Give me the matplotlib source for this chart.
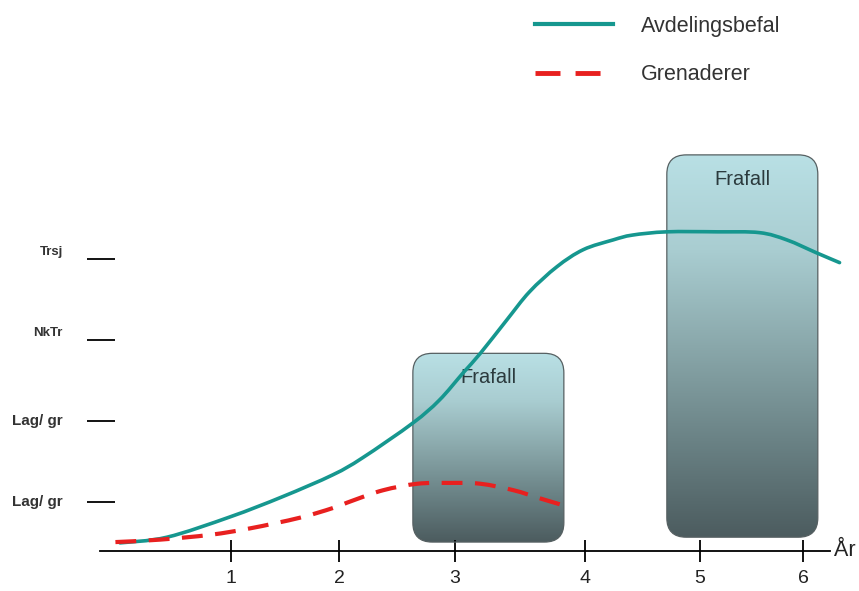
import numpy as np
import matplotlib
matplotlib.use('Agg')
import matplotlib.pyplot as plt
from matplotlib.patches import FancyBboxPatch, PathPatch
from matplotlib.path import Path
from matplotlib.lines import Line2D
from matplotlib.colors import LinearSegmentedColormap

plt.rcParams['font.family'] = ['Liberation Sans', 'DejaVu Sans']

# year axis (tick positions, labels 1..6)
year_pos = [1.0, 1.944, 2.958, 4.094, 5.10, 6.0]
year_labels = ['1', '2', '3', '4', '5', '6']

# rank levels on the y axis
level_pos = [0.6, 1.6, 2.6, 3.6]
level_labels = ['Lag/ gr', 'Lag/ gr', 'NkTr', 'Trsj']

# Avdelingsbefal (teal solid)
avd_x = [0.03, 0.44, 0.99, 1.45, 1.89, 2.15, 2.59, 2.82, 3.03, 3.18, 3.41,
         3.61, 3.85, 4.08, 4.34, 4.51, 4.81, 5.25, 5.62, 5.86, 6.12, 6.32]
avd_y = [0.10, 0.17, 0.42, 0.67, 0.94, 1.15, 1.58, 1.86, 2.20, 2.44, 2.85,
         3.20, 3.51, 3.72, 3.84, 3.90, 3.94, 3.94, 3.93, 3.84, 3.68, 3.56]

# Grenaderer (red dashed)
gren_x = [-0.01, 0.38, 0.82, 1.17, 1.60, 1.89, 2.06, 2.33, 2.63, 2.91, 3.18,
          3.47, 3.70, 3.89]
gren_y = [0.11, 0.14, 0.20, 0.28, 0.41, 0.53, 0.62, 0.75, 0.83, 0.84, 0.83,
          0.75, 0.65, 0.57]

# "Frafall" boxes: (x0, x1), (y0, y1)
box_x = [(2.59, 3.91), (4.81, 6.13)]
box_y = [(0.11, 2.44), (0.17, 4.89)]


def smooth_path(xs, ys):
    # Catmull-Rom through the read points, written as cubic Bezier segments
    p = np.column_stack([xs, ys]).astype(float)
    verts = [p[0]]
    codes = [Path.MOVETO]
    for i in range(len(p) - 1):
        p0 = p[i - 1] if i > 0 else p[i]
        p3 = p[i + 2] if i + 2 < len(p) else p[i + 1]
        c1 = p[i] + (p[i + 1] - p0) / 6.0
        c2 = p[i + 1] - (p3 - p[i]) / 6.0
        verts += [c1, c2, p[i + 1]]
        codes += [Path.CURVE4] * 3
    return Path(verts, codes)


fig = plt.figure(figsize=(8.59, 5.91), dpi=100)
ax = fig.add_axes([0, 0, 1, 1])

grad = LinearSegmentedColormap.from_list(
    'frafall', ['#b9e0e5', '#a9cdd1', '#8aa8ab', '#6a8285', '#4c5c5f'])
aspect = 114.4 / 81.0
for (x0, x1), (y0, y1) in zip(box_x, box_y):
    patch = FancyBboxPatch((x0, y0), x1 - x0, y1 - y0,
                           boxstyle='round,pad=0,rounding_size=0.17',
                           mutation_aspect=aspect, facecolor='none',
                           edgecolor='#566062', linewidth=0.9, zorder=2)
    ax.add_patch(patch)
    im = ax.imshow(np.linspace(0, 1, 256).reshape(-1, 1), cmap=grad,
                   extent=[x0, x1, y0, y1], origin='upper', aspect='auto',
                   zorder=1)
    im.set_clip_path(patch)
    ax.text((x0 + x1) / 2, y1 - 0.3, 'Frafall', ha='center', va='center',
            fontsize=14.5, color='#2b3a3d', zorder=3)

teal = '#16978f'
red = '#e8201f'
ax.add_patch(PathPatch(smooth_path(avd_x, avd_y), facecolor='none',
                       edgecolor=teal, lw=2.6, capstyle='round', zorder=4))
ax.add_patch(PathPatch(smooth_path(gren_x, gren_y), facecolor='none',
                       edgecolor=red, lw=3.0, linestyle=(0, (5, 3)),
                       zorder=5))

ax.set_xlim(-1.019, 6.490)
ax.set_ylim(-0.494, 6.802)

for s in ['top', 'right']:
    ax.spines[s].set_visible(False)
ax.spines['bottom'].set_position(('data', 0))
ax.spines['bottom'].set_bounds(-0.145, 6.236)
ax.spines['bottom'].set_linewidth(1.3)
ax.spines['left'].set_position(('data', -0.132))
ax.spines['left'].set_visible(False)

ax.set_xticks(year_pos)
ax.set_xticklabels(year_labels, fontsize=14, color='#222222')
ax.tick_params(axis='x', direction='inout', length=16, width=1.3, pad=6)
ax.set_yticks(level_pos)
ax.set_yticklabels([])
ax.tick_params(axis='y', direction='inout', length=19.5, width=1.3)

for yp, lab in zip(level_pos, level_labels):
    small = lab != 'Lag/ gr'
    ax.text(-0.47, yp + (0.09 if small else 0.0), lab, ha='right',
            va='center', fontsize=9.5 if small else 11, fontweight='bold',
            color='#333333')

ax.text(6.27, 0.0, 'År', ha='left', va='center', fontsize=15.5,
        color='#222222')

handles = [Line2D([], [], color=teal, lw=3.0),
           Line2D([], [], color=red, lw=3.5, dashes=(5.14, 3.1))]
ax.legend(handles, ['Avdelingsbefal', 'Grenaderer'], loc='upper left',
          bbox_to_anchor=(535 / 859, 1 - 16 / 591),
          bbox_transform=fig.transFigure, frameon=False, fontsize=15.5,
          borderpad=0, borderaxespad=0, handlelength=3.6,
          handletextpad=1.3, labelspacing=1.27, labelcolor='#333333')

fig.savefig('out.png', dpi=100)
